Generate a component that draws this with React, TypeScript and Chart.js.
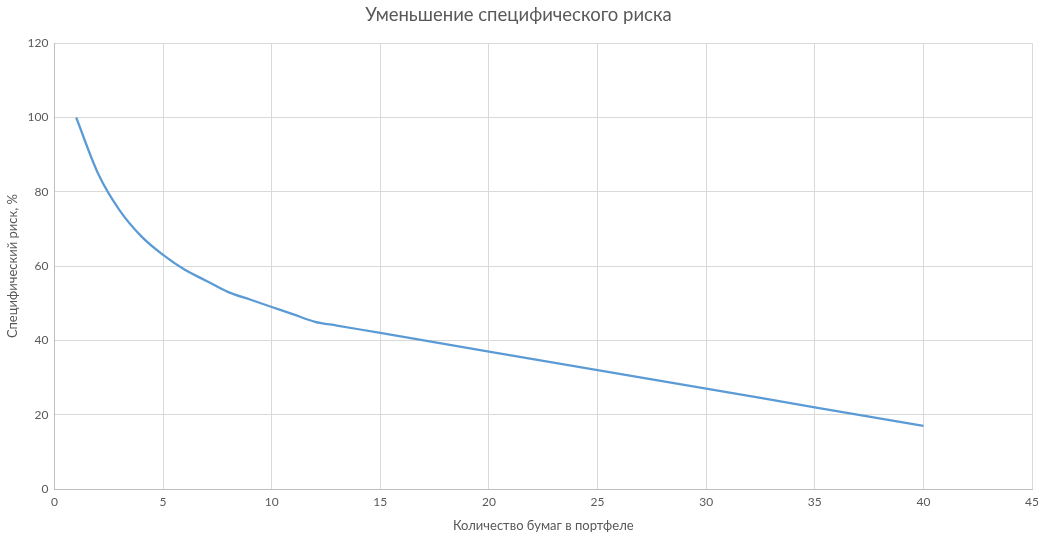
import React, { useEffect, useRef } from "react";
import { Chart, registerables } from "chart.js";

Chart.register(...registerables);

const TITLE = "Уменьшение специфического риска";
const X_TITLE = "Количество бумаг в портфеле";
const Y_TITLE = "Специфический риск, %";

const xValues = [1, 2, 3, 4, 5, 6, 7, 8, 9, 10, 11, 12, 13, 15, 20, 25, 30, 35, 40];
const riskValues = [100, 85, 75, 68, 63, 59, 56, 53, 51, 49, 47, 45, 44, 42, 37, 32, 27, 22, 17];

const X_MIN = 0;
const X_MAX = 45;
const X_STEP = 5;
const Y_MIN = 0;
const Y_MAX = 120;
const Y_STEP = 20;

const FONT = "Lato, 'Open Sans', sans-serif";
const TEXT = "#595959";

export default function App() {
  const ref = useRef<HTMLCanvasElement | null>(null);

  useEffect(() => {
    if (!ref.current) return;
    const chart = new Chart(ref.current, {
      type: "line",
      data: {
        datasets: [
          {
            label: Y_TITLE,
            data: xValues.map((x, i) => ({ x, y: riskValues[i] })),
            borderColor: "#5B9BD5",
            backgroundColor: "#5B9BD5",
            borderWidth: 2.25,
            pointRadius: 0,
            tension: 0.4,
            cubicInterpolationMode: "monotone",
            fill: false,
          },
        ],
      },
      options: {
        animation: false,
        responsive: false,
        maintainAspectRatio: false,
        layout: { padding: { left: 5, right: 14, top: 4, bottom: 13 } },
        plugins: {
          legend: { display: false },
          tooltip: { enabled: false },
          title: {
            display: true,
            text: TITLE,
            color: TEXT,
            font: { family: FONT, size: 18.5, weight: "normal" },
            padding: { top: 0, bottom: 17 },
          },
        },
        scales: {
          x: {
            type: "linear",
            min: X_MIN,
            max: X_MAX,
            ticks: { stepSize: X_STEP, color: TEXT, font: { family: FONT, size: 12 }, padding: 6 },
            grid: { color: "#d9d9d9", drawTicks: false, lineWidth: 1 },
            border: { color: "#bfbfbf", width: 1 },
            title: {
              display: true,
              text: X_TITLE,
              color: TEXT,
              font: { family: FONT, size: 13 },
              padding: { top: 3, bottom: 0 },
            },
          },
          y: {
            type: "linear",
            min: Y_MIN,
            max: Y_MAX,
            ticks: { stepSize: Y_STEP, color: TEXT, font: { family: FONT, size: 12 }, padding: 6 },
            grid: { color: "#d9d9d9", drawTicks: false, lineWidth: 1 },
            border: { color: "#bfbfbf", width: 1 },
            title: {
              display: true,
              text: Y_TITLE,
              color: TEXT,
              font: { family: FONT, size: 13 },
              padding: { top: 0, bottom: 1 },
            },
          },
        },
      },
    });
    return () => chart.destroy();
  }, []);

  return (
    <div style={{ position: "absolute", left: 0, top: 0, width: 1046, height: 547, background: "#fff" }}>
      <canvas ref={ref} width={1046} height={547} style={{ width: 1046, height: 547 }} />
    </div>
  );
}
